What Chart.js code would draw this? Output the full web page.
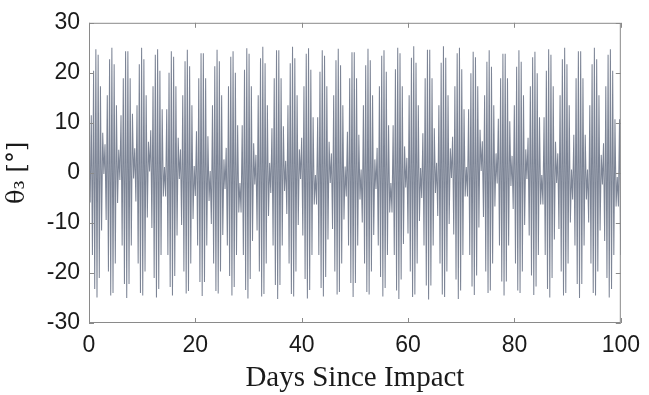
<!DOCTYPE html>
<html>
<head>
<meta charset="utf-8">
<script src="https://cdn.jsdelivr.net/npm/chart.js@4.4.1/dist/chart.umd.min.js"></script>
<style>
  html, body { margin: 0; padding: 0; background: #ffffff; }
  #wrap { width: 649px; height: 395px; position: relative; }
</style>
</head>
<body>
<div id="wrap"><canvas id="c" width="649" height="395"></canvas></div>
<script>
// Sample times (days since impact)
const days = [
0,0.215,0.43,0.645,0.86,1.075,1.29,1.505,1.72,1.935,
2.15,2.365,2.58,2.795,3.01,3.225,3.44,3.655,3.87,4.085,
4.3,4.515,4.73,4.945,5.16,5.375,5.59,5.805,6.02,6.235,
6.45,6.665,6.88,7.095,7.31,7.525,7.74,7.955,8.17,8.385,
8.6,8.815,9.03,9.245,9.46,9.675,9.89,10.105,10.32,10.535,
10.75,10.965,11.18,11.395,11.61,11.825,12.04,12.255,12.47,12.685,
12.9,13.115,13.33,13.545,13.76,13.975,14.19,14.405,14.62,14.835,
15.05,15.265,15.48,15.695,15.91,16.125,16.34,16.555,16.77,16.985,
17.2,17.415,17.63,17.845,18.06,18.275,18.49,18.705,18.92,19.135,
19.35,19.565,19.78,19.995,20.21,20.425,20.64,20.855,21.07,21.285,
21.5,21.715,21.93,22.145,22.36,22.575,22.79,23.005,23.22,23.435,
23.65,23.865,24.08,24.295,24.51,24.725,24.94,25.155,25.37,25.585,
25.8,26.015,26.23,26.445,26.66,26.875,27.09,27.305,27.52,27.735,
27.95,28.165,28.38,28.595,28.81,29.025,29.24,29.455,29.67,29.885,
30.1,30.315,30.53,30.745,30.96,31.175,31.39,31.605,31.82,32.035,
32.25,32.465,32.68,32.895,33.11,33.325,33.54,33.755,33.97,34.185,
34.4,34.615,34.83,35.045,35.26,35.475,35.69,35.905,36.12,36.335,
36.55,36.765,36.98,37.195,37.41,37.625,37.84,38.055,38.27,38.485,
38.7,38.915,39.13,39.345,39.56,39.775,39.99,40.205,40.42,40.635,
40.85,41.065,41.28,41.495,41.71,41.925,42.14,42.355,42.57,42.785,
43,43.215,43.43,43.645,43.86,44.075,44.29,44.505,44.72,44.935,
45.15,45.365,45.58,45.795,46.01,46.225,46.44,46.655,46.87,47.085,
47.3,47.515,47.73,47.945,48.16,48.375,48.59,48.805,49.02,49.235,
49.45,49.665,49.88,50.095,50.31,50.525,50.74,50.955,51.17,51.385,
51.6,51.815,52.03,52.245,52.46,52.675,52.89,53.105,53.32,53.535,
53.75,53.965,54.18,54.395,54.61,54.825,55.04,55.255,55.47,55.685,
55.9,56.115,56.33,56.545,56.76,56.975,57.19,57.405,57.62,57.835,
58.05,58.265,58.48,58.695,58.91,59.125,59.34,59.555,59.77,59.985,
60.2,60.415,60.63,60.845,61.06,61.275,61.49,61.705,61.92,62.135,
62.35,62.565,62.78,62.995,63.21,63.425,63.64,63.855,64.07,64.285,
64.5,64.715,64.93,65.145,65.36,65.575,65.79,66.005,66.22,66.435,
66.65,66.865,67.08,67.295,67.51,67.725,67.94,68.155,68.37,68.585,
68.8,69.015,69.23,69.445,69.66,69.875,70.09,70.305,70.52,70.735,
70.95,71.165,71.38,71.595,71.81,72.025,72.24,72.455,72.67,72.885,
73.1,73.315,73.53,73.745,73.96,74.175,74.39,74.605,74.82,75.035,
75.25,75.465,75.68,75.895,76.11,76.325,76.54,76.755,76.97,77.185,
77.4,77.615,77.83,78.045,78.26,78.475,78.69,78.905,79.12,79.335,
79.55,79.765,79.98,80.195,80.41,80.625,80.84,81.055,81.27,81.485,
81.7,81.915,82.13,82.345,82.56,82.775,82.99,83.205,83.42,83.635,
83.85,84.065,84.28,84.495,84.71,84.925,85.14,85.355,85.57,85.785,
86,86.215,86.43,86.645,86.86,87.075,87.29,87.505,87.72,87.935,
88.15,88.365,88.58,88.795,89.01,89.225,89.44,89.655,89.87,90.085,
90.3,90.515,90.73,90.945,91.16,91.375,91.59,91.805,92.02,92.235,
92.45,92.665,92.88,93.095,93.31,93.525,93.74,93.955,94.17,94.385,
94.6,94.815,95.03,95.245,95.46,95.675,95.89,96.105,96.32,96.535,
96.75,96.965,97.18,97.395,97.61,97.825,98.04,98.255,98.47,98.685,
98.9,99.115,99.33,99.545,99.76,99.975
];

// theta_3 in degrees (alternating oscillation extremes)
const theta3 = [
// days 0 - 14
0,-5.9,11.5,-16.4,20.4,-23.2,24.7,-24.9,23.6,-21.0,17.3,-11.5,8.0,-0.2,5.7,-9.4,15.5,-19.7,22.7,-24.5,25.0,-24.0,21.7,-18.1,13.5,-6.0,4.6,-1.4,11.5,-14.5,18.9,-22.2,24.3,-25.0,24.3,-22.2,18.9,-14.5,11.8,-1.1,4.9,-5.7,13.5,-18.1,21.7,-24.0,25.0,-24.5,22.7,-19.7,15.5,-8.9,6.2,0.3,8.5,-11.0,17.3,-21.0,23.6,-24.9,24.7,-23.2,20.4,-16.4,12.7,-4.7,
// days 14 - 28
1.2,-4.7,12.7,-16.4,20.0,-22.8,24.3,-24.5,23.2,-20.6,17.3,-12.5,7.0,-1.2,4.7,-10.4,15.5,-19.7,22.3,-24.1,24.6,-23.6,21.3,-18.1,13.5,-9.2,1.4,-4.6,8.3,-14.5,18.9,-21.8,23.9,-24.6,23.9,-21.8,18.9,-14.5,7.3,-5.6,0.4,-10.2,13.5,-18.1,21.3,-23.6,24.6,-24.1,22.3,-19.7,15.5,-12.4,2.7,-3.2,5.0,-14.5,17.3,-20.6,23.2,-24.5,24.3,-22.8,20.0,-16.4,9.5,-7.9,
// days 28 - 42
-2.0,-7.9,9.5,-16.4,20.6,-23.4,24.9,-25.1,23.8,-21.2,17.3,-13.6,5.9,-2.3,3.6,-11.5,15.5,-19.7,22.9,-24.7,25.2,-24.2,21.9,-18.1,13.5,-8.6,2.0,-4.0,8.9,-14.5,18.9,-22.4,24.5,-25.2,24.5,-22.4,18.9,-14.5,9.3,-3.6,2.4,-8.2,13.5,-18.1,21.9,-24.2,25.2,-24.7,22.9,-19.7,15.5,-10.4,4.7,-1.2,7.0,-12.5,17.3,-21.2,23.8,-25.1,24.9,-23.4,20.6,-16.4,11.1,-6.3,
// days 42 - 57
-0.4,-6.3,11.1,-16.4,20.2,-23.0,24.5,-24.7,23.4,-20.8,17.3,-13.3,6.2,-2.0,3.9,-11.2,15.5,-19.7,22.5,-24.3,24.8,-23.8,21.5,-18.1,13.5,-9.3,1.3,-4.7,8.2,-14.5,18.9,-22.0,24.1,-24.8,24.1,-22.0,18.9,-14.5,7.6,-5.3,0.7,-9.9,13.5,-18.1,21.5,-23.8,24.8,-24.3,22.5,-19.7,15.5,-12.4,2.7,-3.2,5.0,-14.5,17.3,-20.8,23.4,-24.7,24.5,-23.0,20.2,-16.4,9.5,-7.9,
// days 57 - 71
-2.0,-7.9,9.5,-16.4,20.7,-23.5,25.0,-25.2,23.9,-21.3,17.3,-14.2,5.3,-2.9,3.0,-12.1,15.5,-19.7,23.0,-24.8,25.3,-24.3,22.0,-18.1,13.5,-9.6,1.0,-5.0,7.9,-14.5,18.9,-22.5,24.6,-25.3,24.6,-22.5,18.9,-14.5,8.9,-4.0,2.0,-8.6,13.5,-18.1,22.0,-24.3,25.3,-24.8,23.0,-19.7,15.5,-10.2,4.9,-1.0,7.2,-12.3,17.3,-21.3,23.9,-25.2,25.0,-23.5,20.7,-16.4,12.7,-4.7,
// days 71 - 85
1.2,-4.7,12.7,-16.4,19.9,-22.7,24.2,-24.4,23.1,-20.5,17.3,-10.9,8.6,0.4,6.3,-8.8,15.5,-19.7,22.2,-24.0,24.5,-23.5,21.2,-18.1,13.5,-6.7,3.9,-2.1,10.8,-14.5,18.9,-21.7,23.8,-24.5,23.8,-21.7,18.9,-14.5,10.3,-2.6,3.4,-7.2,13.5,-18.1,21.2,-23.5,24.5,-24.0,22.2,-19.7,15.5,-10.4,4.7,-1.2,7.0,-12.5,17.3,-20.5,23.1,-24.4,24.2,-22.7,19.9,-16.4,11.1,-6.3,
// days 85 - 99
-0.4,-6.3,11.1,-16.4,20.4,-23.2,24.7,-24.9,23.6,-21.0,17.3,-13.3,6.2,-2.0,3.9,-11.2,15.5,-19.7,22.7,-24.5,25.0,-24.0,21.7,-18.1,13.5,-9.9,0.7,-5.3,7.6,-14.5,18.9,-22.2,24.3,-25.0,24.3,-22.2,18.9,-14.5,7.6,-5.3,0.7,-9.9,13.5,-18.1,21.7,-24.0,25.0,-24.5,22.7,-19.7,15.5,-11.5,3.6,-2.3,5.9,-13.6,17.3,-21.0,23.6,-24.9,24.7,-23.2,20.4,-16.4,10.7,-6.7,
// days 99 - 100
-0.8,-6.7,10.7,-16.4
];

const xTicks = [0, 20, 40, 60, 80, 100];
const yTicks = [-30, -20, -10, 0, 10, 20, 30];
const xTitle = 'Days Since Impact';
const yTitle = 'θ₃ [°]';

const points = days.map((d, i) => ({ x: d, y: theta3[i] }));

const frameColor = '#8a8a8a';

const boxPlugin = {
  id: 'box',
  afterDatasetsDraw(chart) {
    const { ctx, chartArea: a, scales } = chart;
    ctx.save();
    ctx.strokeStyle = frameColor;
    ctx.lineWidth = 1;
    ctx.strokeRect(a.left + 0.5, a.top + 0.5, a.right - a.left - 1, a.bottom - a.top - 1);
    const L = 5;
    ctx.beginPath();
    xTicks.forEach(v => {
      const px = Math.round(scales.x.getPixelForValue(v)) + 0.5;
      ctx.moveTo(px, a.bottom); ctx.lineTo(px, a.bottom - L);
      ctx.moveTo(px, a.top); ctx.lineTo(px, a.top + L);
    });
    yTicks.forEach(v => {
      const py = Math.round(scales.y.getPixelForValue(v)) + 0.5;
      ctx.moveTo(a.left, py); ctx.lineTo(a.left + L, py);
      ctx.moveTo(a.right, py); ctx.lineTo(a.right - L, py);
    });
    ctx.stroke();
    ctx.restore();
  }
};

new Chart(document.getElementById('c'), {
  type: 'line',
  data: {
    datasets: [{
      data: points,
      borderColor: 'rgba(58,70,96,0.66)',
      borderWidth: 1.05,
      pointRadius: 0,
      tension: 0,
      fill: false
    }]
  },
  options: {
    responsive: false,
    animation: false,
    events: [],
    layout: { padding: { left: 0, right: 22, top: 16, bottom: 0 } },
    plugins: { legend: { display: false }, tooltip: { enabled: false } },
    scales: {
      x: {
        type: 'linear', min: 0, max: 100,
        afterBuildTicks: s => { s.ticks = xTicks.map(v => ({ value: v })); },
        afterFit: s => { s.height = 72; },
        grid: { display: false, drawTicks: false },
        border: { display: false },
        ticks: { padding: 9, color: '#1a1a1a', font: { family: 'Liberation Sans, Arial, sans-serif', size: 23 }, maxRotation: 0 },
        title: { display: true, text: xTitle, color: '#1a1a1a', font: { family: 'Liberation Serif, serif', size: 29, lineHeight: 1 }, padding: { top: 0, bottom: 2 } }
      },
      y: {
        type: 'linear', min: -30, max: 30,
        afterBuildTicks: s => { s.ticks = yTicks.map(v => ({ value: v })); },
        afterFit: s => { s.width = 89; },
        grid: { display: false, drawTicks: false },
        border: { display: false },
        ticks: { padding: 9, color: '#1a1a1a', font: { family: 'Liberation Sans, Arial, sans-serif', size: 23 } },
        title: { display: true, text: yTitle, color: '#1a1a1a', font: { family: 'DejaVu Serif, serif', size: 24, lineHeight: 1 }, padding: { top: 6, bottom: 0 } }
      }
    }
  },
  plugins: [boxPlugin]
});
</script>
</body>
</html>
